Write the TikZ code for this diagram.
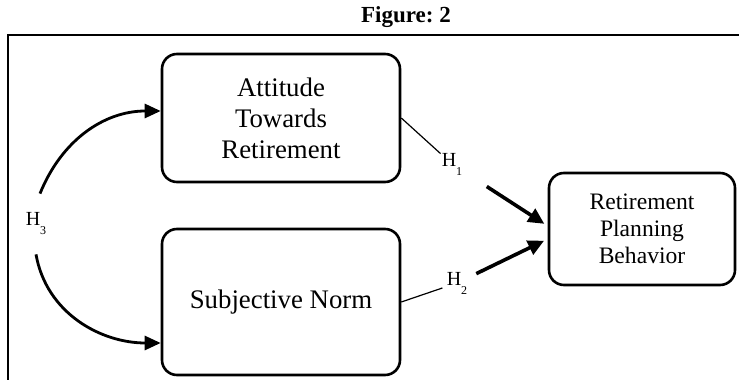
\documentclass[tikz,border=0pt]{standalone}
\usepackage{fontspec}
\setmainfont{Liberation Serif}
\usepackage{tikz}
\usetikzlibrary{arrows.meta, positioning}
\frenchspacing

\newcommand{\hyp}[1]{H\raisebox{-4.5pt}{\fontsize{6}{6}\selectfont #1}}

\begin{document}
\begin{tikzpicture}[x=0.5pt, y=0.5pt,
    construct/.style={rectangle, rounded corners=7.5pt, draw, line width=1.3pt,
      align=center, inner sep=2pt},
    hlabel/.style={circle, minimum size=15pt, inner sep=0pt, font=\fontsize{10}{10}\selectfont},
    thin link/.style={line width=0.6pt},
    main link/.style={line width=1.8pt, -{Triangle[length=8pt, width=7.5pt]}},
    corr link/.style={line width=1.4pt, -{Triangle[length=8pt, width=7pt]}}]
    \useasboundingbox (0,0) rectangle (739,380);

    \node[font=\fontsize{11.5}{12}\selectfont\bfseries] (title) at (406,363) {Figure: 2};
    \draw[line width=1.3pt] (739,345) -- (8,345) -- (8,0);

    \node[construct, minimum width=119pt, minimum height=64pt,
      font=\fontsize{13.4}{15.5}\selectfont] (att) at (281,262)
    {Attitude\\Towards\\Retirement};
    \node[construct, minimum width=119pt, minimum height=73pt,
      font=\fontsize{13.4}{15.5}\selectfont] (sub) at (281,78)
    {Subjective Norm};
    \node[construct, minimum width=93pt, minimum height=56pt,
      font=\fontsize{11.8}{13.5}\selectfont] (ret) at (642,151)
    {Retirement\\Planning\\Behavior};

    \node[rectangle, minimum height=30pt, inner sep=0pt,
      font=\fontsize{10}{10}\selectfont] (h3) at (36,156) {\hyp{3}};
    \node[hlabel] (h1) at (452,216) {\hyp{1}};
    \node[hlabel] (h2) at (457,97) {\hyp{2}};

    \draw[corr link] ([xshift=2pt]h3.north) to[out=68, in=180] ([yshift=3.5pt]att.west);
    \draw[corr link] (h3.south) to[out=-80, in=180] ([yshift=-20.5pt]sub.west);

    \draw[thin link] (att.east) -- (h1);
    \draw[main link, shorten <=13pt, shorten >=2pt] (h1) -- ([yshift=1.5pt]ret.west);
    \draw[thin link] (sub.east) -- (h2);
    \draw[main link, shorten <=3pt, shorten >=2pt] (h2) -- ([yshift=-5pt]ret.west);
\end{tikzpicture}
\end{document}
